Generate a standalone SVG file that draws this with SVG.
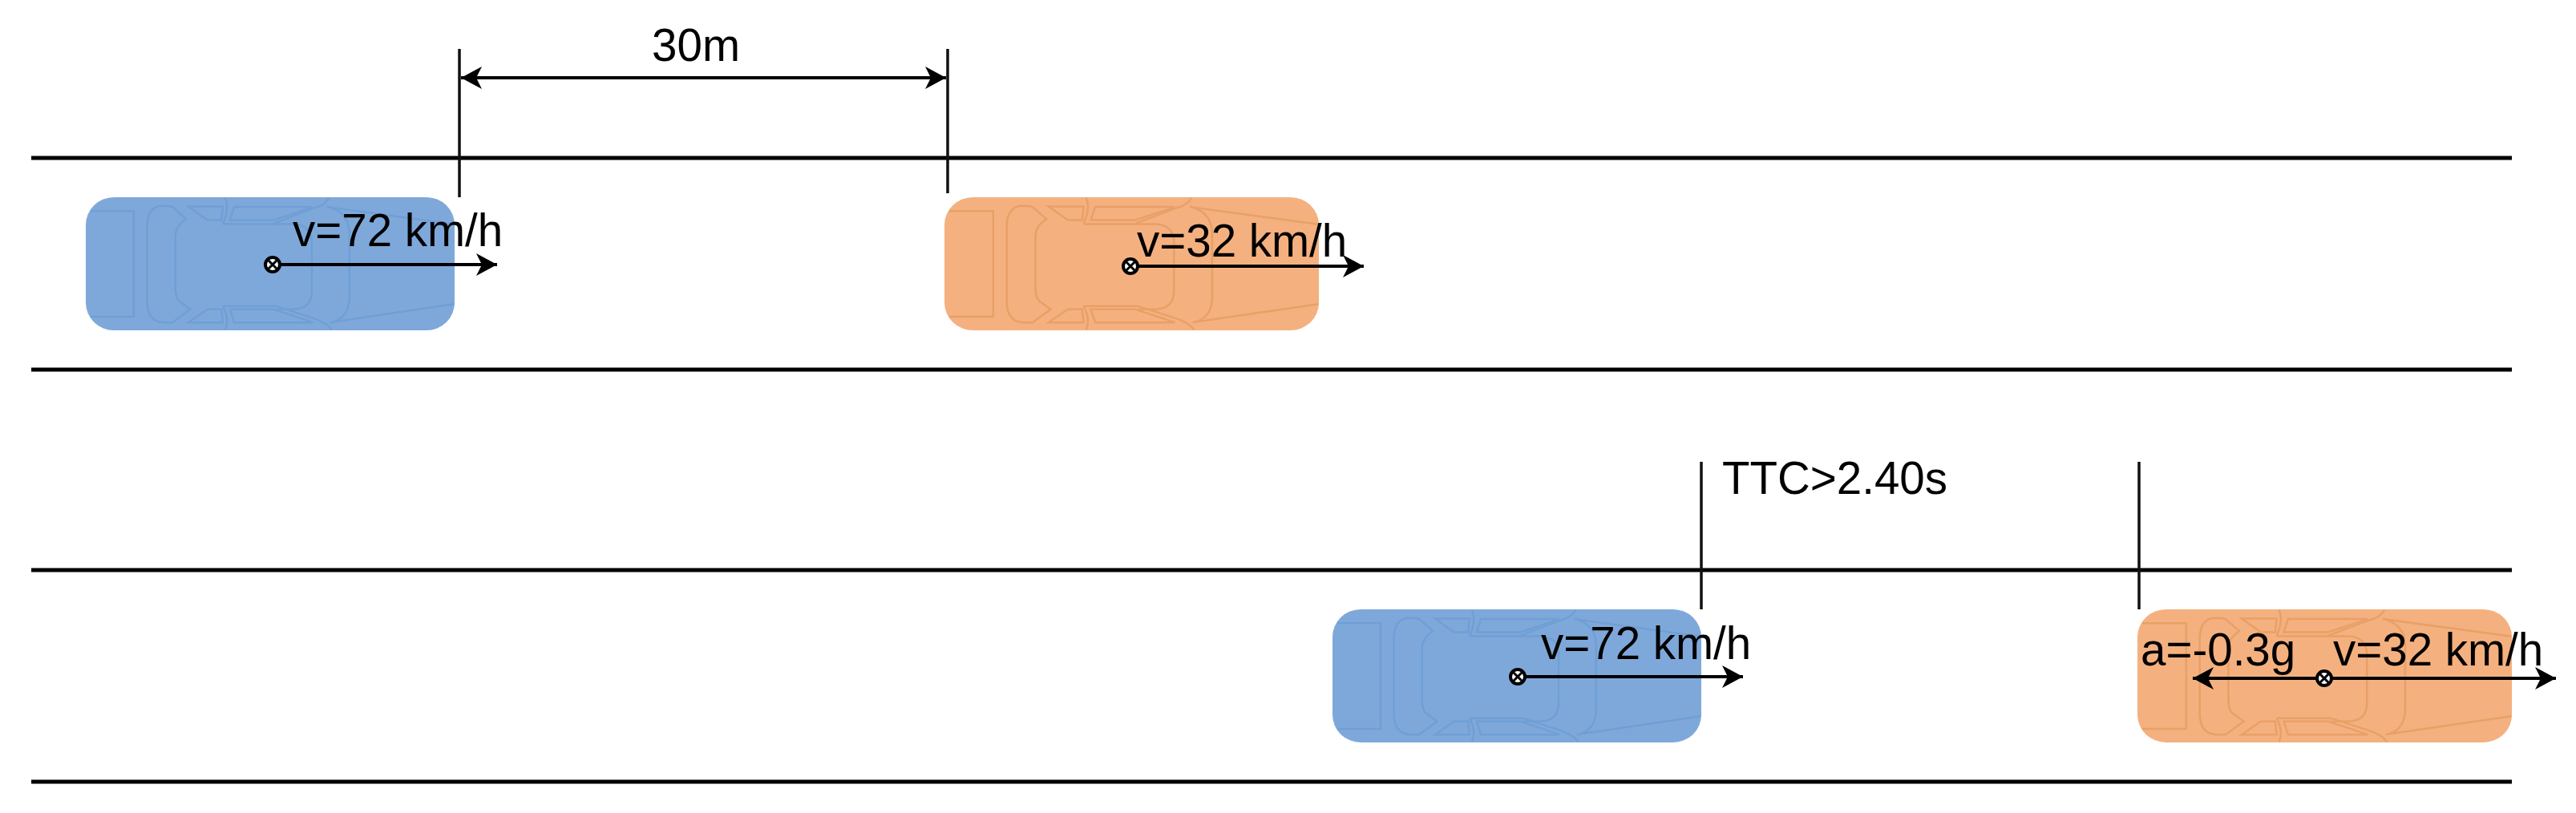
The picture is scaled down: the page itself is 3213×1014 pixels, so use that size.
<svg xmlns="http://www.w3.org/2000/svg" width="3213" height="1014" viewBox="0 0 3213 1014">
<style>
text{font-family:"Liberation Sans",Arial,sans-serif;font-size:56.5px;fill:#000}
.road{stroke:#000;stroke-width:5;fill:none}
.dim{stroke:#111;stroke-width:3.5;fill:none}
.arr{stroke:#000;stroke-width:4;fill:none;marker-end:url(#ah)}
.both{marker-start:url(#ah)}
.blue{fill:#7fa8da;stroke:#6f9fd6}
.orange{fill:#f4b17f;stroke:#e8a067}
.d{fill:none;stroke-width:2.5;vector-effect:non-scaling-stroke}
.b{stroke:none}
.c{fill:#fff;stroke:#000;stroke-width:4}
.x{stroke:#000;stroke-width:3}
</style>
<defs>
<marker id="ah" markerUnits="userSpaceOnUse" markerWidth="28" markerHeight="30" refX="26" refY="15" orient="auto-start-reverse">
<path d="M0,1 L26,15 L0,29 L7,15 Z" fill="#000"/>
</marker>
<g id="car">
<rect class="b" x="55" y="45" width="1305" height="507" rx="100" ry="105"/>
<path class="d" d="M72,98H225V500H72"/>
<path class="d" d="M410,128L362,82Q350,78 320,78Q272,85 272,160V440Q272,520 330,522H362L425,472L385,440Q372,425 372,390V195Q372,155 410,128Z"/>
<path class="d" d="M540,147H790Q855,150 855,220V400Q855,470 790,472H730"/>
<path class="d" d="M540,460H730"/>
<path class="d" d="M910,80Q985,100 988,180V430Q985,510 920,522"/>
<path class="d" d="M418,80H540L535,132H485Z"/>
<path class="d" d="M580,82H858L720,132H565Z"/>
<path class="d" d="M418,522H540L535,472H485Z"/>
<path class="d" d="M580,522H858L720,472H565Z"/>
<path class="d" d="M548,47Q565,85 540,147"/>
<path class="d" d="M548,550Q565,510 540,460"/>
<path class="d" d="M915,47Q905,75 858,88L720,145"/>
<path class="d" d="M925,550Q905,520 858,505L730,460"/>
<path class="d" d="M910,82L1358,148"/>
<path class="d" d="M930,520L1358,452"/>
</g>
<g id="hub">
<circle class="c" r="9"/>
<path class="x" d="M-6,-6L6,6M-6,6L6,-6"/>
</g>
</defs>
<g id="roads">
<path class="road" d="M39,197H3133M39,461H3133M39,711H3133M39,975H3133"/>
</g>
<g id="car-blue-top">
<use href="#car" class="blue" transform="translate(107,246) scale(0.3525,0.3274) translate(-55,-45)"/>
</g>
<g id="car-orange-top">
<use href="#car" class="orange" transform="translate(1178,246) scale(0.3579,0.3274) translate(-55,-45)"/>
</g>
<g id="car-blue-bottom">
<use href="#car" class="blue" transform="translate(1662,760) scale(0.3525,0.3274) translate(-55,-45)"/>
</g>
<g id="car-orange-bottom">
<use href="#car" class="orange" transform="translate(2666,760) scale(0.3579,0.3274) translate(-55,-45)"/>
</g>
<g id="connectors">
<path class="dim" d="M573,61V246M1182,61V241M2122,576V760M2668,576V760"/>
<path class="arr both" d="M575,97H1180"/>
<path class="arr" d="M348,330H620"/>
<path class="arr" d="M1418,332H1701"/>
<path class="arr" d="M1901,844H2174"/>
<path class="arr both" d="M2735,846H3188"/>
</g>
<g id="hubs">
<use href="#hub" x="340" y="330"/>
<use href="#hub" x="1410" y="332"/>
<use href="#hub" x="1893" y="844"/>
<use href="#hub" x="2899" y="846"/>
</g>
<g id="labels">
<text x="868" y="76" text-anchor="middle">30m</text>
<text x="365" y="307">v=72 km/h</text>
<text x="1418" y="320">v=32 km/h</text>
<text x="2148" y="616">TTC&gt;2.40s</text>
<text x="1922" y="822">v=72 km/h</text>
<text x="2670" y="830">a=-0.3g</text>
<text x="2910" y="830">v=32 km/h</text>
</g>
</svg>
